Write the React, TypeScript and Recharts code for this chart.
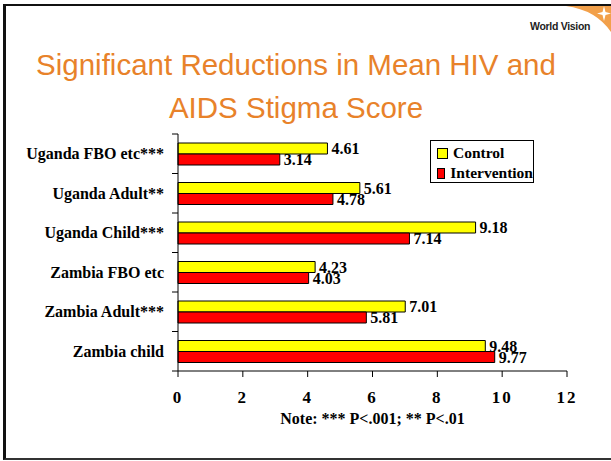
import { Bar, BarChart, LabelList, XAxis, YAxis } from "recharts";

const groups = [
  "Uganda FBO etc***",
  "Uganda Adult**",
  "Uganda Child***",
  "Zambia FBO etc",
  "Zambia Adult***",
  "Zambia child",
];
const control = [4.61, 5.61, 9.18, 4.23, 7.01, 9.48];
const intervention = [3.14, 4.78, 7.14, 4.03, 5.81, 9.77];
const xTicks = [0, 2, 4, 6, 8, 10, 12];
const seriesNames = ["Control", "Intervention"];
const seriesColors = ["#FFFF00", "#FF0000"];

const data = groups.map((name, i) => ({
  name,
  control: control[i],
  intervention: intervention[i],
}));

const W = 611;
const H = 461;
const PLOT_TOP = 134;
const PLOT_BOTTOM = 371;
const BAND = (PLOT_BOTTOM - PLOT_TOP) / groups.length;
const SERIF = "'Liberation Serif', 'Times New Roman', serif";
const ORANGE = "#E8822A";

function GroupTick(props: any) {
  const { x, y, payload, index } = props;
  const lx = x + 8;
  return (
    <g>
      <text
        x={x}
        y={y}
        dy="0.35em"
        textAnchor="end"
        fontFamily={SERIF}
        fontWeight="bold"
        fontSize={16}
        fill="#000"
      >
        {payload.value}
      </text>
      <line x1={lx} x2={lx + 6} y1={y - BAND / 2} y2={y - BAND / 2} stroke="#000" />
      {index === groups.length - 1 && (
        <line x1={lx} x2={lx + 6} y1={y + BAND / 2} y2={y + BAND / 2} stroke="#000" />
      )}
    </g>
  );
}

function LegendBox() {
  return (
    <div
      style={{
        position: "absolute",
        left: 430,
        top: 140,
        width: 104,
        height: 43,
        border: "1px solid #000",
        background: "#fff",
        padding: "2px 0 0 6px",
        boxSizing: "border-box",
        fontFamily: SERIF,
        fontWeight: "bold",
        fontSize: 15.5,
        lineHeight: "20px",
      }}
    >
      {seriesNames.map((label, i) => (
        <div key={label} style={{ display: "flex", alignItems: "center" }}>
          <span
            style={{
              display: "inline-block",
              width: 9,
              height: 9,
              background: seriesColors[i],
              border: "1px solid #000",
              marginRight: 5,
            }}
          />
          {label}
        </div>
      ))}
    </div>
  );
}

const labelStyle = { fontFamily: SERIF, fontWeight: "bold", fontSize: 16, fill: "#000" };

export default function App() {
  return (
    <div
      style={{
        position: "absolute",
        left: 0,
        top: 0,
        width: W,
        height: H,
        background: "#fff",
        overflow: "hidden",
      }}
    >
      <div
        style={{
          position: "absolute",
          left: 3,
          top: 4,
          width: W + 20,
          height: 452,
          borderTop: "2px solid #111",
          borderLeft: "3px solid #111",
          borderBottom: "2px solid #333",
        }}
      />
      <svg width={W} height={50} style={{ position: "absolute", left: 0, top: 0 }}>
        <path d="M 566 6 Q 596 10 611 32 L 611 6 Z" fill="#F2A04A" />
        <path d="M 604 6 L 605.5 12 L 611 13.5 L 605.5 15 L 604 21 L 602.5 15 L 597 13.5 L 602.5 12 Z" fill="#fff" />
        <text
          x={530}
          y={30}
          fontFamily="'Liberation Sans', Arial, sans-serif"
          fontSize={10.5}
          fontWeight="bold"
          letterSpacing={-0.3}
          fill="#222"
        >
          World Vision
        </text>
      </svg>
      <div
        style={{
          position: "absolute",
          left: 0,
          top: 43,
          width: 592,
          textAlign: "center",
          color: ORANGE,
          fontFamily: "'Liberation Sans', Arial, sans-serif",
          fontSize: 29.5,
          lineHeight: "43px",
        }}
      >
        Significant Reductions in Mean HIV and
        <br />
        AIDS Stigma Score
      </div>
      <div style={{ position: "absolute", left: 0, top: 0 }}>
        <BarChart
          width={W}
          height={H}
          data={data}
          layout="vertical"
          margin={{ top: PLOT_TOP, right: 44, bottom: H - PLOT_BOTTOM - 60, left: 8 }}
          barSize={11}
          barGap={0}
        >
          <XAxis
            type="number"
            domain={[0, 12]}
            ticks={xTicks}
            height={60}
            axisLine={{ stroke: "#000" }}
            tickLine={{ stroke: "#000" }}
            tickSize={6}
            tickMargin={14}
            tick={{ fontFamily: SERIF, fontWeight: "bold", fontSize: 17, fill: "#000", letterSpacing: 2 }}
          />
          <YAxis
            type="category"
            dataKey="name"
            width={170}
            axisLine={{ stroke: "#000" }}
            tickLine={false}
            tickMargin={8}
            tick={<GroupTick />}
          />
          <Bar dataKey="control" name={seriesNames[0]} fill={seriesColors[0]} stroke="#000" strokeWidth={1} isAnimationActive={false}>
            <LabelList
              dataKey="control"
              position="right"
              offset={4}
              style={labelStyle}
              formatter={(v: any) => Number(v).toFixed(2)}
            />
          </Bar>
          <Bar
            dataKey="intervention"
            name={seriesNames[1]}
            fill={seriesColors[1]}
            stroke="#000"
            strokeWidth={1}
            isAnimationActive={false}
          >
            <LabelList
              dataKey="intervention"
              position="right"
              offset={4}
              style={labelStyle}
              formatter={(v: any) => Number(v).toFixed(2)}
            />
          </Bar>
        </BarChart>
      </div>
      <LegendBox />
      <div
        style={{
          position: "absolute",
          left: 178,
          width: 389,
          top: 410,
          textAlign: "center",
          fontFamily: SERIF,
          fontWeight: "bold",
          fontSize: 16,
        }}
      >
        Note: *** P&lt;.001; ** P&lt;.01
      </div>
    </div>
  );
}
